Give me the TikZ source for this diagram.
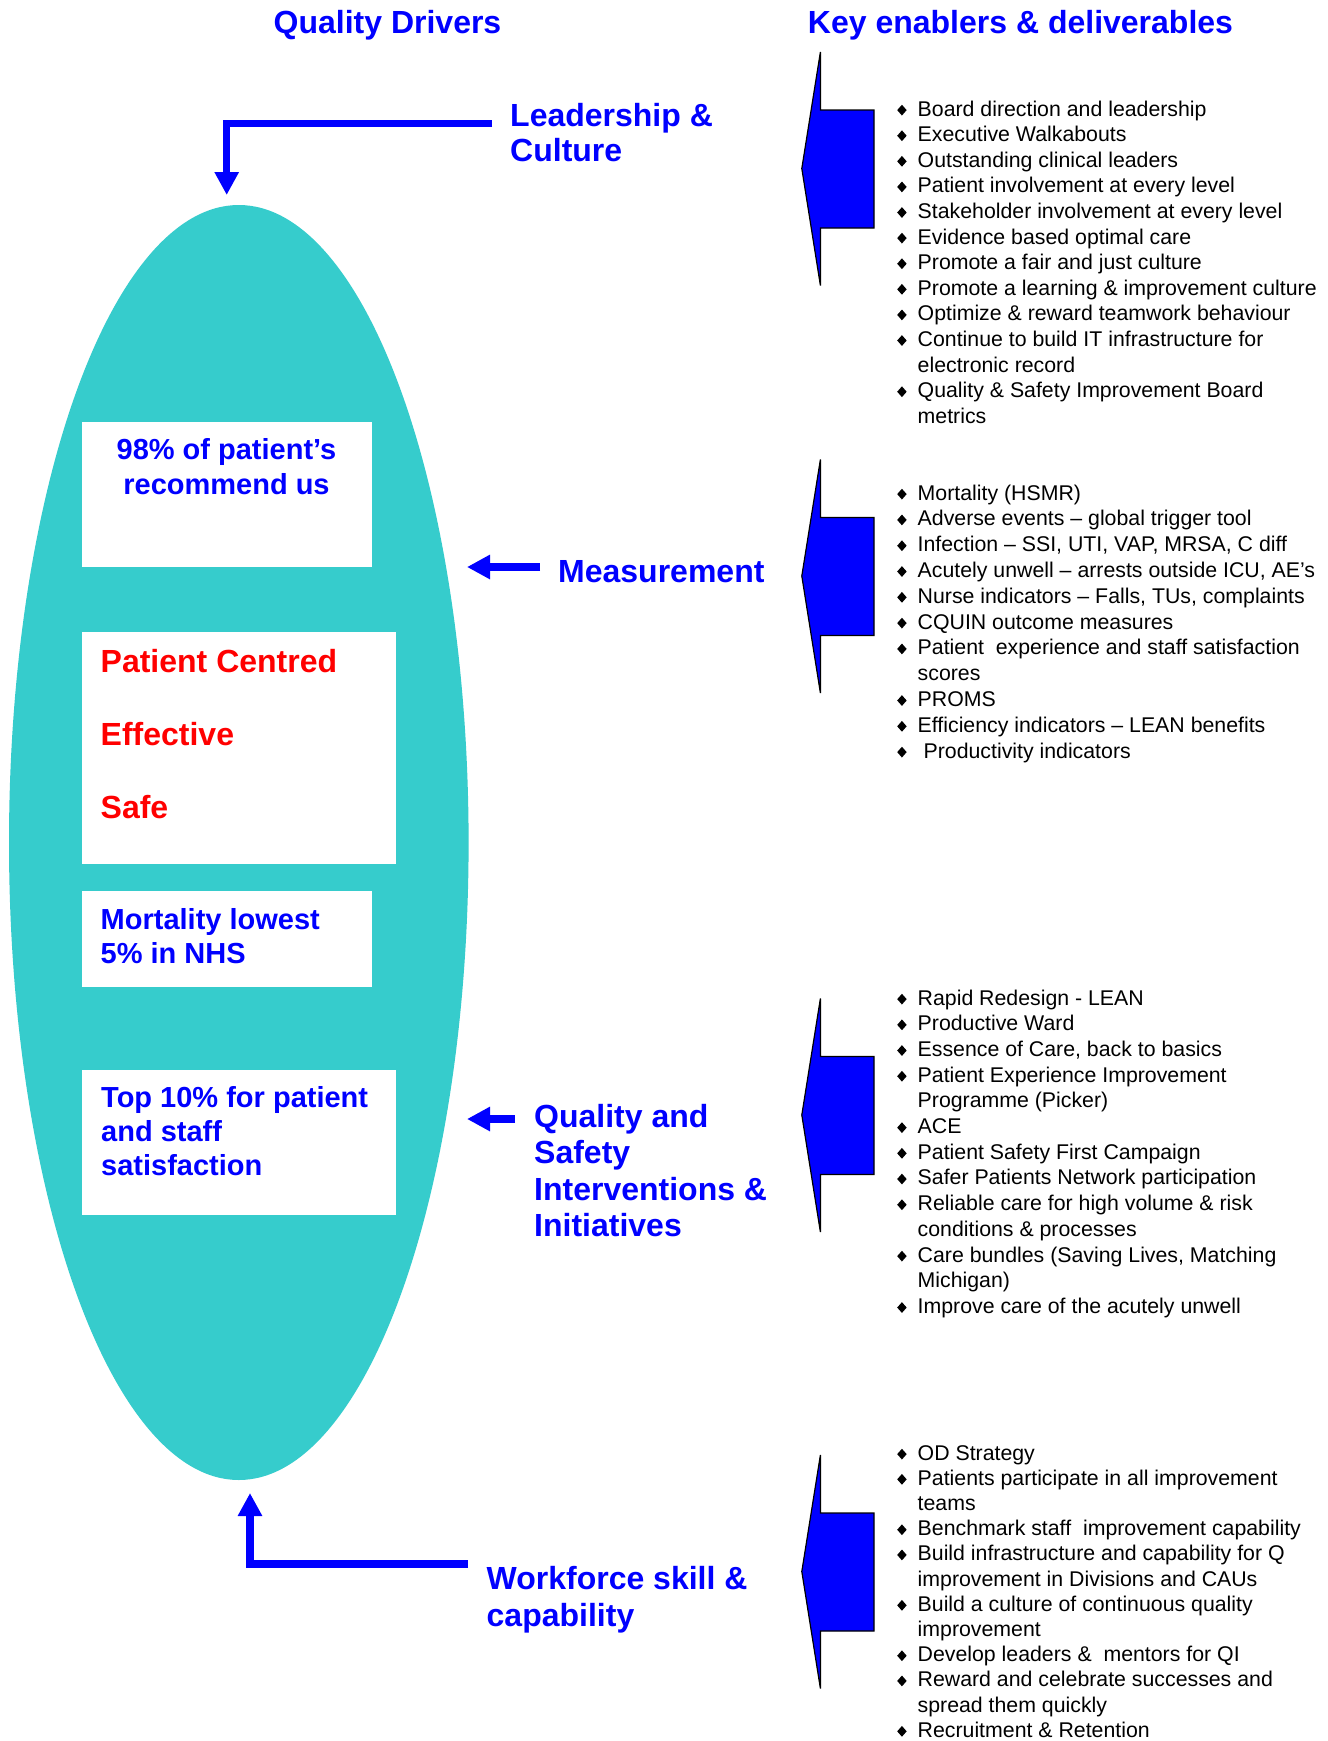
\documentclass[tikz,border=0pt]{standalone}
\usepackage{fontspec}
\setmainfont{Liberation Sans}
\usepackage{graphicx}
\usetikzlibrary{arrows.meta,shapes.geometric}
\definecolor{qblue}{RGB}{0,0,255}
\definecolor{qred}{RGB}{255,0,0}
\definecolor{qteal}{RGB}{54,204,204}
\newcommand\dmd{\raisebox{0.5pt}{\scalebox{0.88}[1.0]{\rotatebox{45}{\rule{7.6pt}{7.6pt}}}}}
\newcommand\bi[1]{\makebox[20.5pt][l]{\dmd}#1}
\newcommand\bc[1]{\hspace*{20.5pt}#1}
\tikzset{
  title/.style={font=\fontsize{32}{36}\selectfont\bfseries, text=qblue, inner sep=0pt, anchor=base},
  driver/.style={font=\fontsize{32}{#1}\selectfont\bfseries, text=qblue, inner sep=0pt, anchor=base west},
  goaltext/.style={font=\fontsize{29}{#1}\selectfont\bfseries, text=qblue, inner sep=0pt},
  redtext/.style={font=\fontsize{32}{73.3}\selectfont\bfseries, text=qred, inner sep=0pt, anchor=base west},
  goalbox/.style={fill=white, draw=none, inner sep=0pt, anchor=north west},
  conn/.style={draw=qblue, line width=7.5pt, -{Triangle[length=23pt,width=23pt]}},
  blockarrow/.style={fill=qblue, draw=black, line width=1.2pt, line join=miter},
  bullets/.style={font=\fontsize{21.3}{#1}\selectfont, inner sep=0pt, anchor=base west, text=black},
}
\begin{document}
\begin{tikzpicture}[x=1pt,y=-1pt]
\fill[white] (0,0) rectangle (1328,1741);
\useasboundingbox (0,0) rectangle (1328,1741);

% titles
\node[title] (t1) at (387.5,33) {Quality Drivers};
\node[title] (t2) at (1020.5,33) {Key enablers \& deliverables};

% oval
\node[ellipse, fill=qteal, draw=none, minimum width=459.6pt, minimum height=1275pt, inner sep=0pt] (oval) at (238.8,842.5) {};

% goal boxes
\node[goalbox, minimum width=289.8pt, minimum height=145pt] (b1) at (82.2,422) {};
\node[goalbox, minimum width=313.8pt, minimum height=232.3pt] (b2) at (82.2,631.7) {};
\node[goalbox, minimum width=289.8pt, minimum height=96.5pt] (b3) at (82.2,890.7) {};
\node[goalbox, minimum width=313.8pt, minimum height=144.2pt] (b4) at (82.2,1070.2) {};

\node[goaltext=34.5, anchor=base] (g1) at (226.5,459.5) {\begin{tabular}[t]{@{}c@{}}98\% of patient’s\\recommend us\end{tabular}};
\node[redtext] (g2) at (100.5,672) {\begin{tabular}[t]{@{}l@{}}Patient Centred\\Effective\\Safe\end{tabular}};
\node[goaltext=34.5, anchor=base west] (g3) at (100.5,929) {\begin{tabular}[t]{@{}l@{}}Mortality lowest\\5\% in NHS\end{tabular}};
\node[goaltext=34, anchor=base west] (g4) at (101,1107) {\begin{tabular}[t]{@{}l@{}}Top 10\% for patient\\and staff\\satisfaction\end{tabular}};

% driver labels
\node[driver=35] (d1) at (510,126) {\begin{tabular}[t]{@{}l@{}}Leadership \&\\Culture\end{tabular}};
\node[driver=36] (d2) at (558,582) {Measurement};
\node[driver=36.6] (d3) at (534,1127) {\begin{tabular}[t]{@{}l@{}}Quality and\\Safety\\Interventions \&\\Initiatives\end{tabular}};
\node[driver=37.8] (d4) at (486.5,1589) {\begin{tabular}[t]{@{}l@{}}Workforce skill \&\\capability\end{tabular}};

% connectors
\coordinate (c1s) at (492,123.7);
\coordinate (c1e) at (226.7,195);
\draw[conn] (c1s) -| (c1e);
\coordinate (c2s) at (540,567);
\coordinate (c2e) at (467,567);
\draw[conn] (c2s) -- (c2e);
\coordinate (c3s) at (515,1119);
\coordinate (c3e) at (467,1119);
\draw[conn] (c3s) -- (c3e);
\coordinate (c4s) at (468,1564);
\coordinate (c4e) at (250,1493);
\draw[conn] (c4s) -| (c4e);

% block arrows
\foreach \T in {52,459.5,998.5,1455}{
  \begin{scope}[shift={(0,\T)}]
    \filldraw[blockarrow] (820.4,0) -- (801.8,116.5) -- (820.4,233.5) -- (820.4,176) -- (874,176) -- (874,58) -- (820.4,58) -- cycle;
  \end{scope}
}

% bullet lists
\node[bullets=25.6] (l1) at (897,116) {\begin{tabular}[t]{@{}l@{}}
\bi{Board direction and leadership}\\
\bi{Executive Walkabouts}\\
\bi{Outstanding clinical leaders}\\
\bi{Patient involvement at every level}\\
\bi{Stakeholder involvement at every level}\\
\bi{Evidence based optimal care}\\
\bi{Promote a fair and just culture}\\
\bi{Promote a learning \& improvement culture}\\
\bi{Optimize \& reward teamwork behaviour}\\
\bi{Continue to build IT infrastructure for}\\
\bc{electronic record}\\
\bi{Quality \& Safety Improvement Board}\\
\bc{metrics}
\end{tabular}};

\node[bullets=25.8] (l2) at (897,500) {\begin{tabular}[t]{@{}l@{}}
\bi{Mortality (HSMR)}\\
\bi{Adverse events – global trigger tool}\\
\bi{Infection – SSI, UTI, VAP, MRSA, C diff}\\
\bi{Acutely unwell – arrests outside ICU, AE’s}\\
\bi{Nurse indicators – Falls, TUs, complaints}\\
\bi{CQUIN outcome measures}\\
\bi{Patient\ \ experience and staff satisfaction}\\
\bc{scores}\\
\bi{PROMS}\\
\bi{Efficiency indicators – LEAN benefits}\\
\bi{\ Productivity indicators}
\end{tabular}};

\node[bullets=25.7] (l3) at (897,1005) {\begin{tabular}[t]{@{}l@{}}
\bi{Rapid Redesign - LEAN}\\
\bi{Productive Ward}\\
\bi{Essence of Care, back to basics}\\
\bi{Patient Experience Improvement}\\
\bc{Programme (Picker)}\\
\bi{ACE}\\
\bi{Patient Safety First Campaign}\\
\bi{Safer Patients Network participation}\\
\bi{Reliable care for high volume \& risk}\\
\bc{conditions \& processes}\\
\bi{Care bundles (Saving Lives, Matching}\\
\bc{Michigan)}\\
\bi{Improve care of the acutely unwell}
\end{tabular}};

\node[bullets=25.2] (l4) at (897,1460) {\begin{tabular}[t]{@{}l@{}}
\bi{OD Strategy}\\
\bi{Patients participate in all improvement}\\
\bc{teams}\\
\bi{Benchmark staff\ \ improvement capability}\\
\bi{Build infrastructure and capability for Q}\\
\bc{improvement in Divisions and CAUs}\\
\bi{Build a culture of continuous quality}\\
\bc{improvement}\\
\bi{Develop leaders \&\ \ mentors for QI}\\
\bi{Reward and celebrate successes and}\\
\bc{spread them quickly}\\
\bi{Recruitment \& Retention}
\end{tabular}};
\end{tikzpicture}
\end{document}
